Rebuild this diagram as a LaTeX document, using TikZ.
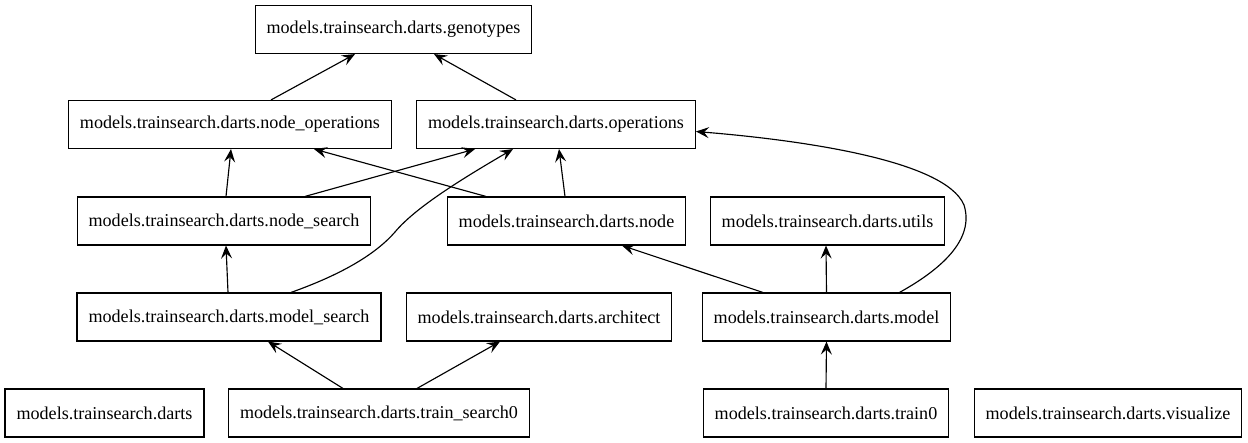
\documentclass[tikz,border=0pt]{standalone}
\usepackage{fontspec}
\setmainfont{Liberation Serif}
\usetikzlibrary{arrows.meta,calc}
\tikzset{font={\fontsize{10.3pt}{12pt}\selectfont}}
\tikzset{
  modbox/.style={draw, line width=0.65pt, inner xsep=0.23cm, inner ysep=0pt, minimum height=0.96cm},
  dep/.style={line width=0.65pt, -{Stealth[length=2.6mm,width=2.2mm,inset=1mm]}}
}

\begin{document}
\begin{tikzpicture}[x=0.02cm,y=-0.02cm]
		\useasboundingbox (0,0) rectangle (1248,443);
		% Modules
		\node[modbox] (gen) at (393.5,29.5) {models.trainsearch.darts.genotypes};
		\node[modbox] (nops) at (230,124.5) {models.trainsearch.darts.node\_operations};
		\node[modbox] (ops) at (556,124.5) {models.trainsearch.darts.operations};
		\node[modbox] (nsearch) at (224,221) {models.trainsearch.darts.node\_search};
		\node[modbox] (nd) at (566.5,221) {models.trainsearch.darts.node};
		\node[modbox] (utl) at (827.5,221) {models.trainsearch.darts.utils};
		\node[modbox] (msearch) at (229,317) {models.trainsearch.darts.model\_search};
		\node[modbox] (arch) at (539,317) {models.trainsearch.darts.architect};
		\node[modbox] (mdl) at (826.5,317) {models.trainsearch.darts.model};
		\node[modbox] (darts) at (104.5,413) {models.trainsearch.darts};
		\node[modbox] (tsearch) at (379,413) {models.trainsearch.darts.train\_search0};
		\node[modbox] (tr0) at (826,413) {models.trainsearch.darts.train0};
		\node[modbox] (vis) at (1108,413) {models.trainsearch.darts.visualize};
		% Imports
		\draw[dep] ($(nops.north)+(41,0)$) -- ($(gen.south)+(-38.5,0)$);
		\draw[dep] ($(ops.north)+(-40,0)$) -- ($(gen.south)+(40.5,0)$);
		\draw[dep] ($(nsearch.north)+(2,0)$) -- ($(nops.south)+(1,0)$);
		\draw[dep] ($(nsearch.north)+(81,0)$) -- ($(ops.south)+(-81,0)$);
		\draw[dep] ($(nd.north)+(-80.5,0)$) -- ($(nops.south)+(84,0)$);
		\draw[dep] ($(nd.north)+(-1.5,0)$) -- ($(ops.south)+(3,0)$);
		\draw[dep] ($(msearch.north)+(-1,0)$) -- ($(nsearch.south)+(2,0)$);
		\draw[dep] ($(msearch.north)+(62,0)$) .. controls (340,275) and (375,255) .. (395,232)
		  .. controls (415,208) and (460,180) .. ($(ops.south)+(-43,0)$);
		\draw[dep] ($(mdl.north)+(-63.5,0)$) -- ($(nd.south)+(55.5,0)$);
		\draw[dep] (mdl.north) -- ($(utl.south)+(-1.5,0)$);
		\draw[dep] ($(mdl.north)+(73,0)$) .. controls (940,270) and (975,240) .. (964,205)
		  .. controls (945,160) and (800,140) .. ($(ops.east)+(0,7)$);
		\draw[dep] ($(tsearch.north)+(-36,0)$) -- ($(msearch.south)+(39,0)$);
		\draw[dep] ($(tsearch.north)+(38,0)$) -- ($(arch.south)+(-39,0)$);
		\draw[dep] (tr0.north) -- (mdl.south);
\end{tikzpicture}
\end{document}
